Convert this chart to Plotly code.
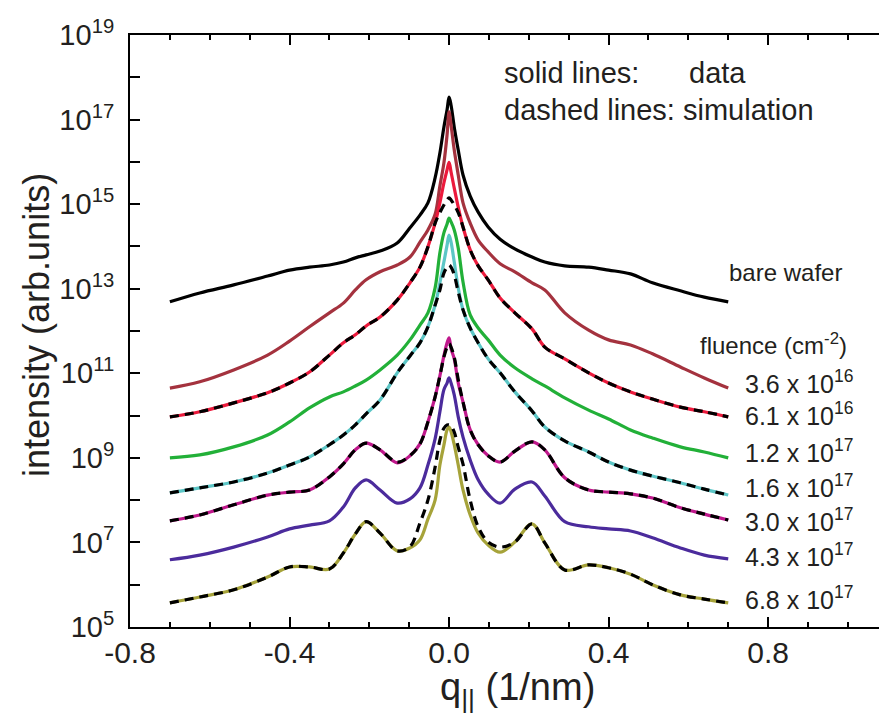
import plotly.graph_objects as go

# q_parallel (1/nm)
q = [-0.70, -0.625, -0.54, -0.455, -0.40, -0.35, -0.30, -0.265, -0.235, -0.208,
     -0.173, -0.13, -0.098, -0.073, -0.053, -0.035, -0.023, -0.013, -0.005, 0.0,
     0.005, 0.013, 0.023, 0.035, 0.053, 0.073, 0.098, 0.128, 0.165, 0.208,
     0.24, 0.29, 0.35, 0.40, 0.455, 0.51, 0.58, 0.64, 0.70]

# measured intensities, stored as log10(intensity)
log_bare_wafer = [12.69, 12.90, 13.09, 13.30, 13.44, 13.51, 13.56, 13.63, 13.73, 13.80,
                  13.89, 14.08, 14.44, 14.74, 15.03, 15.62, 16.21, 16.82, 17.23, 17.53,
                  17.34, 16.82, 16.28, 15.69, 15.19, 14.81, 14.46, 14.17, 13.94, 13.75,
                  13.63, 13.54, 13.51, 13.44, 13.35, 13.14, 12.95, 12.80, 12.69]
log_f36e16 = [10.65, 10.80, 11.08, 11.43, 11.76, 12.10, 12.43, 12.66, 12.97, 13.21,
              13.40, 13.56, 13.75, 14.10, 14.39, 14.76, 15.43, 15.97, 16.64, 17.18,
              16.87, 16.28, 15.69, 15.03, 14.55, 14.15, 13.87, 13.59, 13.40, 13.14,
              12.97, 12.43, 12.02, 11.79, 11.67, 11.46, 11.15, 10.89, 10.65]
log_f61e16 = [9.97, 10.09, 10.30, 10.54, 10.77, 11.03, 11.43, 11.72, 11.91, 12.12,
              12.33, 12.73, 13.14, 13.51, 13.99, 14.55, 15.03, 15.50, 15.81, 15.99,
              15.76, 15.38, 14.93, 14.46, 13.92, 13.54, 13.21, 12.78, 12.43, 12.05,
              11.62, 11.34, 11.01, 10.77, 10.56, 10.39, 10.20, 10.09, 9.97]
log_f12e17 = [9.00, 9.07, 9.26, 9.54, 9.85, 10.18, 10.44, 10.56, 10.70, 10.84,
              11.08, 11.43, 11.79, 12.14, 12.43, 13.02, 13.85, 14.32, 14.53, 14.67,
              14.58, 14.39, 13.96, 13.16, 12.38, 12.07, 11.79, 11.43, 11.13, 10.87,
              10.70, 10.42, 10.13, 9.92, 9.66, 9.47, 9.26, 9.14, 9.00]
log_f16e17 = [8.17, 8.29, 8.43, 8.64, 8.83, 9.02, 9.31, 9.54, 9.78, 10.04,
              10.37, 11.01, 11.41, 11.72, 12.10, 12.61, 13.14, 13.63, 14.03, 14.27,
              14.10, 13.63, 13.02, 12.50, 12.07, 11.72, 11.34, 11.01, 10.56, 10.11,
              9.73, 9.40, 9.14, 8.90, 8.71, 8.57, 8.41, 8.26, 8.12]
log_f30e17 = [7.51, 7.65, 7.89, 8.12, 8.19, 8.24, 8.55, 8.86, 9.19, 9.35,
              9.19, 8.88, 9.05, 9.33, 9.85, 10.44, 10.94, 11.41, 11.72, 11.84,
              11.58, 11.34, 10.77, 10.32, 9.66, 9.31, 9.05, 8.90, 9.16, 9.38,
              9.19, 8.53, 8.24, 8.19, 8.15, 8.05, 7.82, 7.67, 7.53]
log_f43e17 = [6.59, 6.70, 6.89, 7.13, 7.32, 7.41, 7.51, 7.84, 8.29, 8.48,
              8.24, 7.93, 8.03, 8.29, 8.83, 9.45, 10.09, 10.61, 10.77, 10.89,
              10.77, 10.49, 9.97, 9.49, 8.95, 8.48, 8.14, 7.93, 8.26, 8.43,
              8.10, 7.49, 7.37, 7.32, 7.27, 7.11, 6.87, 6.70, 6.61]
log_f68e17 = [5.57, 5.71, 5.88, 6.18, 6.42, 6.42, 6.37, 6.75, 7.20, 7.49,
              7.22, 6.80, 6.87, 7.06, 7.55, 8.00, 8.83, 9.30, 9.66, 9.73,
              9.62, 9.31, 8.83, 8.24, 7.65, 7.22, 6.94, 6.77, 7.01, 7.44,
              6.99, 6.35, 6.47, 6.40, 6.25, 6.00, 5.76, 5.66, 5.57]

# simulations (dashed), log10(intensity)
log_sim_f61e16 = [9.97, 10.09, 10.30, 10.54, 10.77, 11.03, 11.43, 11.72, 11.91, 12.12,
                  12.33, 12.73, 13.14, 13.51, 13.99, 14.55, 14.80, 14.98, 15.10, 15.15,
                  15.10, 14.98, 14.80, 14.46, 13.92, 13.54, 13.21, 12.78, 12.43, 12.05,
                  11.62, 11.34, 11.01, 10.77, 10.56, 10.39, 10.20, 10.09, 9.97]
log_sim_f16e17 = [8.17, 8.29, 8.43, 8.64, 8.83, 9.02, 9.31, 9.54, 9.78, 10.04,
                  10.37, 11.01, 11.41, 11.72, 12.10, 12.61, 12.97, 13.37, 13.51, 13.56,
                  13.51, 13.33, 12.92, 12.50, 12.07, 11.72, 11.34, 11.01, 10.56, 10.11,
                  9.73, 9.40, 9.14, 8.90, 8.71, 8.57, 8.41, 8.26, 8.12]
log_sim_f30e17 = [7.51, 7.65, 7.89, 8.12, 8.19, 8.24, 8.55, 8.86, 9.19, 9.35,
                  9.19, 8.90, 9.05, 9.33, 9.85, 10.44, 10.94, 11.38, 11.62, 11.70,
                  11.62, 11.38, 10.85, 10.32, 9.66, 9.31, 9.05, 8.90, 9.16, 9.38,
                  9.19, 8.53, 8.24, 8.19, 8.15, 8.05, 7.82, 7.67, 7.53]
log_sim_f68e17 = [5.57, 5.71, 5.88, 6.18, 6.42, 6.42, 6.37, 6.75, 7.20, 7.49,
                  7.22, 6.80, 6.90, 7.46, 8.00, 8.78, 9.42, 9.70, 9.78, 9.78,
                  9.76, 9.61, 9.25, 8.85, 8.00, 7.37, 7.01, 6.89, 7.01, 7.44,
                  6.99, 6.35, 6.47, 6.40, 6.25, 6.00, 5.76, 5.66, 5.57]

series_names = ["bare wafer", "3.6 x 10^16", "6.1 x 10^16", "1.2 x 10^17",
                "1.6 x 10^17", "3.0 x 10^17", "4.3 x 10^17", "6.8 x 10^17"]
series_logs = [log_bare_wafer, log_f36e16, log_f61e16, log_f12e17,
               log_f16e17, log_f30e17, log_f43e17, log_f68e17]
series_colors = ["#000000", "#A4323E", "#EC1A3C", "#22B038",
                 "#5CC6C6", "#C0188C", "#4B2B9C", "#A6A33A"]
sim_logs = [log_sim_f61e16, log_sim_f16e17, log_sim_f30e17, log_sim_f68e17]

fluence_labels = ["3.6 x 10<sup>16</sup>", "6.1 x 10<sup>16</sup>", "1.2 x 10<sup>17</sup>",
                  "1.6 x 10<sup>17</sup>", "3.0 x 10<sup>17</sup>", "4.3 x 10<sup>17</sup>",
                  "6.8 x 10<sup>17</sup>"]

x_tick_vals = [-0.8, -0.4, 0.0, 0.4, 0.8]
x_tick_text = ["-0.8", "-0.4", "0.0", "0.4", "0.8"]
y_exponents = list(range(5, 20))
y_tick_vals = [10.0 ** e for e in y_exponents]
y_tick_text = [("10<sup>%d</sup>" % e) if e % 2 == 1 else "" for e in y_exponents]

FONT = "Liberation Sans, Arial, Helvetica, sans-serif"
TXT = "#231f20"

fig = go.Figure()
for name, logs, color in zip(series_names, series_logs, series_colors):
    fig.add_trace(go.Scatter(
        x=q, y=[10.0 ** v for v in logs], mode="lines", name=name, hoverinfo="skip",
        line=dict(color=color, width=3.2, shape="spline", smoothing=1.0)))
for logs in sim_logs:
    fig.add_trace(go.Scatter(
        x=q, y=[10.0 ** v for v in logs], mode="lines", name="simulation", hoverinfo="skip",
        line=dict(color="#000000", width=3.2, dash="9px,6px", shape="spline", smoothing=1.0)))

L, T, W, H = 130, 35, 879, 727
PW, PH = W - L, 727 - 100 - T


def px(xp):
    return (xp - L) / PW


def py(yp):
    return (T + PH - yp) / PH


annotations = []


def ann(text, xp, yp, size, xanchor="left", angle=0):
    annotations.append(dict(text=text, x=px(xp), y=py(yp), xref="paper", yref="paper",
                            xanchor=xanchor, yanchor="middle", showarrow=False,
                            textangle=angle, font=dict(size=size, family=FONT, color=TXT)))


ann("solid lines:", 502, 73, 29)
ann("data", 687, 73, 29)
ann("dashed lines: simulation", 502, 110, 29)
ann("bare wafer", 727, 272, 24)
ann("fluence (cm<sup>-2</sup>)", 698, 344, 24)
for lab, yp in zip(fluence_labels, [382, 414, 451, 486, 520, 555, 598]):
    ann(lab, 743, yp, 25)
ann("intensity (arb.units)", 36, 325, 36, xanchor="center", angle=-90)
ann("q<sub>||</sub> (1/nm)", 517, 690, 38, xanchor="center")

fig.update_layout(
    width=W, height=H, margin=dict(l=L, r=0, t=T, b=100, autoexpand=False),
    plot_bgcolor="white", paper_bgcolor="white", showlegend=False,
    font=dict(family=FONT, color=TXT), annotations=annotations,
    xaxis=dict(range=[-0.8, 1.078], tickmode="array", tickvals=x_tick_vals, ticktext=x_tick_text,
               ticks="inside", ticklen=10, tickwidth=2, tickcolor="black",
               showline=True, linewidth=2, linecolor="black", mirror="allticks",
               showgrid=False, zeroline=False, tickfont=dict(size=30, family=FONT, color=TXT),
               ticklabelstandoff=-2,
               minor=dict(tickmode="linear", tick0=-0.8, dtick=0.1, ticks="inside",
                          ticklen=5, tickwidth=2, tickcolor="black", showgrid=False)),
    yaxis=dict(type="log", range=[5, 19], tickmode="array", tickvals=y_tick_vals, ticktext=y_tick_text,
               ticks="inside", ticklen=10, tickwidth=2, tickcolor="black",
               showline=True, linewidth=2, linecolor="black", mirror=False,
               showgrid=False, zeroline=False, tickfont=dict(size=29, family=FONT, color=TXT),
               ticklabelstandoff=8),
    yaxis2=dict(type="log", range=[5, 19], overlaying="y", side="right", anchor="x",
                tickmode="array", tickvals=y_tick_vals, ticks="inside", ticklen=8, tickwidth=2,
                tickcolor="black", showline=False, showticklabels=False, showgrid=False,
                zeroline=False),
)

fig.write_html("out.html", config={"displayModeBar": False},
               post_script="document.body.style.margin='0px';document.body.style.overflow='hidden';")
